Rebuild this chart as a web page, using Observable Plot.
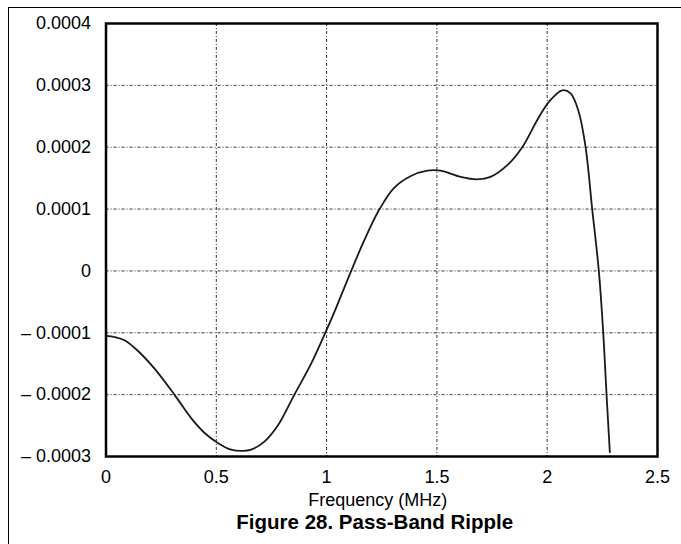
<!DOCTYPE html>
<html><head><meta charset="utf-8">
<script src="https://cdn.jsdelivr.net/npm/d3@7"></script>
<script src="https://cdn.jsdelivr.net/npm/@observablehq/plot@0.6"></script>
<style>
body{margin:0;background:#fff;}
#wrap{position:relative;width:681px;height:544px;overflow:hidden;background:#fff;}
.hline{position:absolute;left:8px;top:7px;width:673px;height:0;border-top:1.6px solid #000;}
.vline{position:absolute;left:8px;top:7px;width:0;height:537px;border-left:1.6px solid #000;}
#chart svg{display:block;}
</style></head><body>
<div id="wrap"><div id="chart"></div><div class="hline"></div><div class="vline"></div></div>
<script>
const freq = [0, 0.04, 0.084, 0.144, 0.22, 0.31, 0.386, 0.447, 0.507, 0.567, 0.62, 0.658, 0.718, 0.779, 0.854, 0.93, 0.998, 1.045, 1.093, 1.169, 1.237, 1.305, 1.38, 1.456, 1.516, 1.607, 1.683, 1.743, 1.819, 1.887, 1.955, 2.007, 2.068, 2.106, 2.143, 2.174, 2.204, 2.234, 2.254, 2.269, 2.284];
const ripple = [-1.05e-4, -1.07e-4, -1.12e-4, -1.29e-4, -1.58e-4, -2.0e-4, -2.38e-4, -2.62e-4, -2.78e-4, -2.89e-4, -2.91e-4, -2.89e-4, -2.76e-4, -2.50e-4, -2.0e-4, -1.50e-4, -0.97e-4, -0.58e-4, -0.16e-4, 0.48e-4, 0.98e-4, 1.34e-4, 1.53e-4, 1.62e-4, 1.62e-4, 1.52e-4, 1.48e-4, 1.52e-4, 1.71e-4, 2.0e-4, 2.44e-4, 2.73e-4, 2.92e-4, 2.87e-4, 2.57e-4, 2.0e-4, 1.0e-4, 0, -1.0e-4, -2.0e-4, -2.93e-4];
const xTicks = [0, 0.5, 1, 1.5, 2, 2.5];
const yTicks = [-0.0003, -0.0002, -0.0001, 0, 0.0001, 0.0002, 0.0003, 0.0004];
const xLabel = "Frequency (MHz)";
const title = "Figure 28. Pass-Band Ripple";

const data = freq.map((f, i) => ({f, v: ripple[i]}));
const fmtY = d => {
  if (Math.abs(d) < 1e-12) return "0";
  const s = Math.abs(d).toFixed(4);
  return d < 0 ? "\u2013 " + s : s;
};
const gridStyle = {stroke: "#333", strokeOpacity: 1, strokeWidth: 1, strokeDasharray: "3,2,1,2"};

const plot = Plot.plot({
  width: 681, height: 544,
  marginLeft: 105.5, marginRight: 24, marginTop: 23, marginBottom: 88,
  style: {fontFamily: "'Liberation Sans', Arial, sans-serif", fontSize: "18px", color: "#000", background: "transparent"},
  x: {domain: [0, 2.5]},
  y: {domain: [-0.0003, 0.0004]},
  marks: [
    Plot.gridX(xTicks.slice(1, -1), gridStyle),
    Plot.gridY(yTicks.slice(1, -1), gridStyle),
    Plot.line(data, {x: "f", y: "v", stroke: "#1a1a1a", strokeWidth: 1.8, curve: "catmull-rom"}),
    Plot.frame({stroke: "#000", strokeWidth: 2.5}),
    Plot.axisX(xTicks, {tickSize: 0, tickPadding: 14, tickFormat: d => String(d), label: null, fontSize: 18}),
    Plot.axisY(yTicks, {tickSize: 0, tickPadding: 15, tickFormat: fmtY, label: null, fontSize: 18}),
    Plot.text([xLabel], {frameAnchor: "bottom", dy: 44, dx: -4, text: d => d, fontSize: 18, lineAnchor: "middle"}),
    Plot.text([title], {frameAnchor: "bottom", dy: 66, dx: -7, text: d => d, fontSize: 20.5, fontWeight: "bold", lineAnchor: "middle"})
  ]
});
document.getElementById("chart").appendChild(plot);
</script>
</body></html>
